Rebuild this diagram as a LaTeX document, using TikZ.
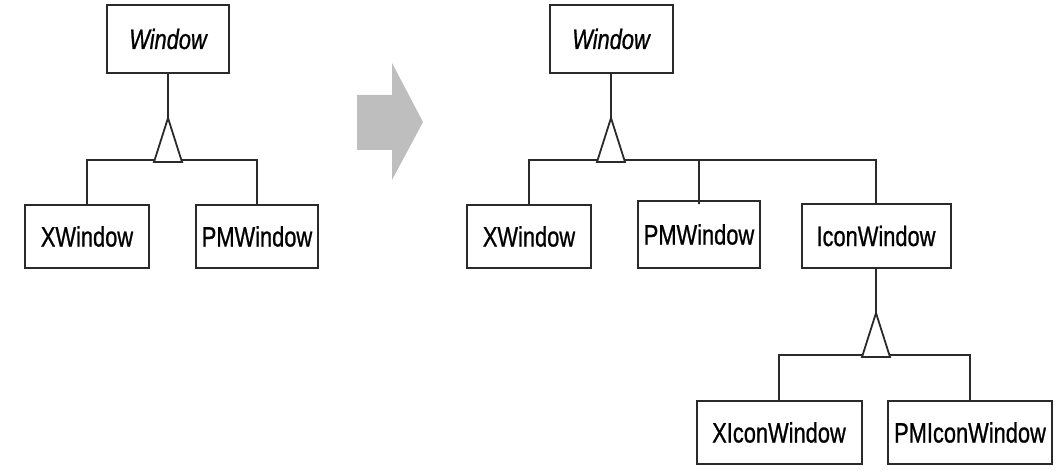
\documentclass[tikz,border=0pt]{standalone}
\usepackage{fontspec}
\usetikzlibrary{calc}
\newfontfamily\umlfont[FakeStretch=0.78,FakeBold=0.8]{Liberation Sans}
\definecolor{linegray}{HTML}{2A2A2A}
\definecolor{arrowgray}{HTML}{BEBEBE}

\begin{document}
\begin{tikzpicture}[
  x=1pt, y=-1pt,
  classbox/.style={
    draw=linegray, line width=2pt, fill=white,
    inner sep=0pt, font=\umlfont\fontsize{28}{30}\selectfont
  },
  abstract/.style={
    classbox, font=\umlfont\itshape\fontsize{28}{30}\selectfont
  },
  link/.style={draw=linegray, line width=1.8pt},
  inherit/.style={link, fill=white}
]
\useasboundingbox (0,0) rectangle (1062,473);

% Before: the original hierarchy
\node[abstract, minimum width=122pt, minimum height=68pt] (winL) at (168,39) {Window};
\node[classbox, minimum width=124pt, minimum height=63pt] (xwinL) at (87,236.5) {XWindow};
\node[classbox, minimum width=122pt, minimum height=63pt] (pmwinL) at (257,236.5) {PMWindow};

\coordinate (tipL) at ($(winL.south)+(0,44)$);
\draw[link] (winL.south) -- (tipL);
\draw[link] (xwinL.north) -- ++(0,-44) -| (pmwinL.north);
\draw[inherit] (tipL) -- ++(-14,44) -- ++(28,0) -- cycle;

% Transition arrow
\fill[arrowgray] (357,95) -- (392,95) -- (392,63) -- (423,122)
  -- (392,180) -- (392,150) -- (357,150) -- cycle;

% After: the extended hierarchy
\node[abstract, minimum width=123pt, minimum height=68pt] (winR) at (611,39) {Window};
\node[classbox, minimum width=124pt, minimum height=63pt] (xwinR) at (529,236.5) {XWindow};
\node[classbox, minimum width=122pt, minimum height=67pt] (pmwinR) at (699,234.5) {\raisebox{-2pt}{PMWindow}};
\node[classbox, minimum width=149pt, minimum height=64pt] (iconwin) at (876,236) {IconWindow};
\node[classbox, minimum width=165pt, minimum height=63pt] (xiconwin) at (779,432.5) {XIconWindow};
\node[classbox, minimum width=164pt, minimum height=63pt] (pmiconwin) at (970,432.5) {PMIconWindow};

\coordinate (tipR) at ($(winR.south)+(0,44)$);
\draw[link] (winR.south) -- (tipR);
\draw[link] (xwinR.north) -- ++(0,-44) -| (iconwin.north);
\draw[link] (pmwinR.north) -- (pmwinR.north |- xwinR.north) -- ++(0,-44);
\draw[inherit] (tipR) -- ++(-14,44) -- ++(28,0) -- cycle;

\coordinate (tipI) at ($(iconwin.south)+(0,44)$);
\draw[link] (iconwin.south) -- (tipI);
\draw[link] (xiconwin.north) -- ++(0,-45) -| (pmiconwin.north);
\draw[inherit] (tipI) -- ++(-14,44) -- ++(28,0) -- cycle;

\end{tikzpicture}
\end{document}
